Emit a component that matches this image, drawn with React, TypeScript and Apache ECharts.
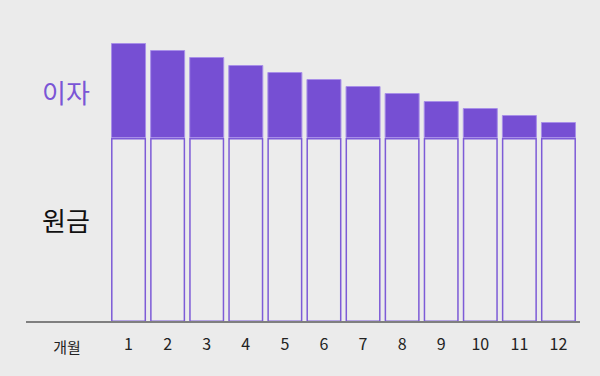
import React, { useEffect, useRef } from "react";
import * as echarts from "echarts";

const months = ["1", "2", "3", "4", "5", "6", "7", "8", "9", "10", "11", "12"];
const principal = [184, 184, 184, 184, 184, 184, 184, 184, 184, 184, 184, 184];
const interest = [95, 88, 81, 73, 66, 59, 52, 45, 37, 30, 23, 16];

const FONT = "'Noto Sans CJK KR', 'Noto Sans', sans-serif";

export default function App() {
  const ref = useRef<HTMLDivElement>(null);
  useEffect(() => {
    if (!ref.current) return;
    const chart = echarts.init(ref.current, undefined, { renderer: "svg" });
    chart.setOption({
      animation: false,
      backgroundColor: "#ebebeb",
      grid: { left: 109, right: 22, top: 22, bottom: 54 },
      xAxis: {
        type: "category",
        data: months,
        axisLine: { show: false },
        axisTick: { show: false },
        axisLabel: { color: "#222", fontSize: 16, fontFamily: FONT, margin: 13 },
      },
      yAxis: {
        type: "value",
        min: 0,
        max: 300,
        show: false,
        splitLine: { show: false },
      },
      graphic: [
        {
          type: "line",
          shape: { x1: 26, y1: 322, x2: 580, y2: 322 },
          style: { stroke: "#7f7f7f", lineWidth: 2 },
          z: 10,
        },
        {
          type: "text",
          x: 67,
          y: 346,
          style: { text: "개월", fill: "#222", font: `15px ${FONT}`, align: "center", verticalAlign: "middle" },
        },
        {
          type: "text",
          x: 66,
          y: 91,
          style: { text: "이자", fill: "#7a55d6", font: `26px ${FONT}`, align: "center", verticalAlign: "middle" },
        },
        {
          type: "text",
          x: 66,
          y: 219,
          style: { text: "원금", fill: "#111", font: `26px ${FONT}`, align: "center", verticalAlign: "middle" },
        },
      ],
      series: [
        {
          name: "원금",
          type: "bar",
          stack: "total",
          data: principal,
          barWidth: 35,
          itemStyle: { color: "#ececec", borderColor: "#7d5bd7", borderWidth: 1.5 },
        },
        {
          name: "이자",
          type: "bar",
          stack: "total",
          data: interest,
          barWidth: 35,
          itemStyle: { color: "#764fd3", borderColor: "#a88fe8", borderWidth: 1 },
        },
      ],
    });
    return () => chart.dispose();
  }, []);
  return <div ref={ref} style={{ width: 600, height: 376, position: "absolute", left: 0, top: 0 }} />;
}
